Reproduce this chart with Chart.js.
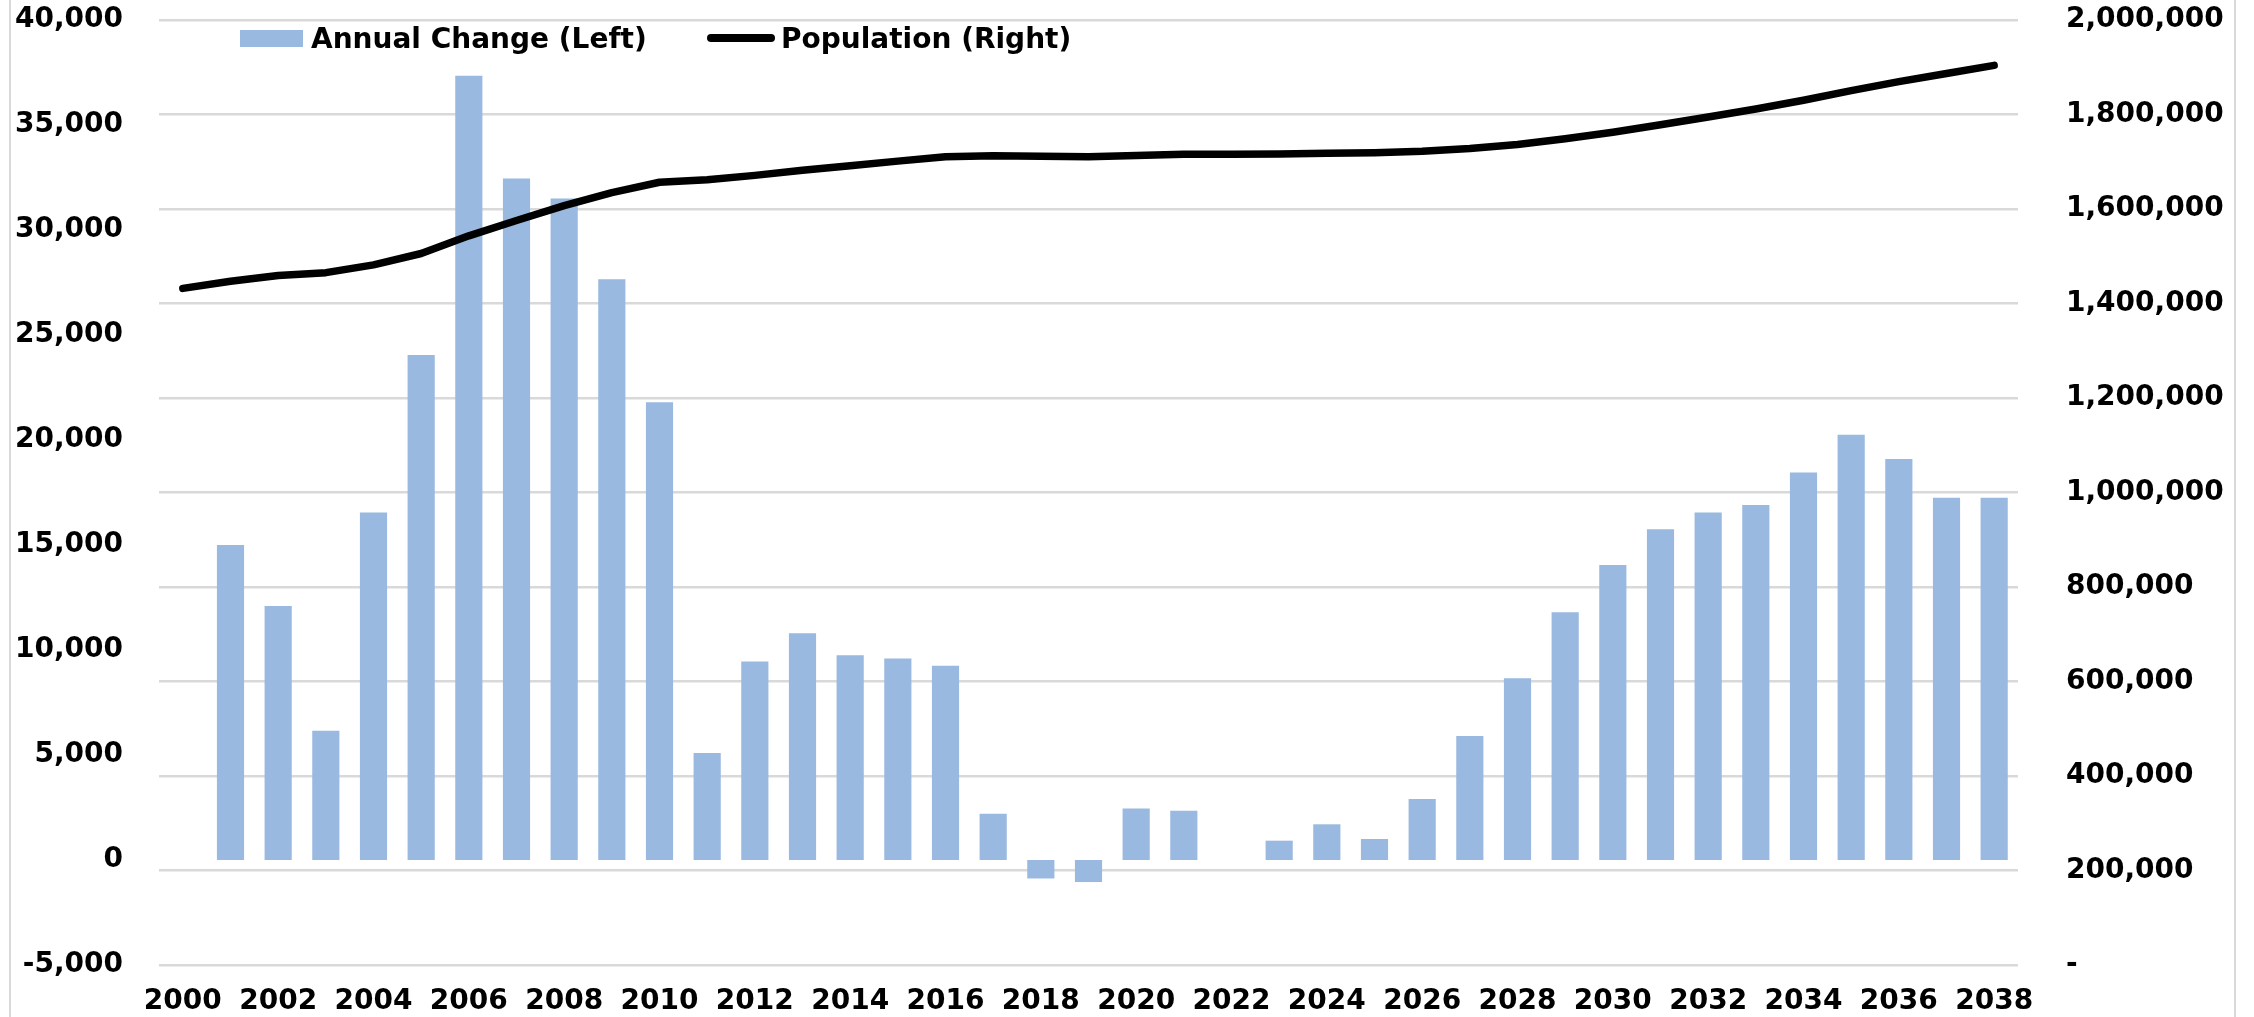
<!DOCTYPE html>
<html>
<head>
<meta charset="utf-8">
<script src="https://cdn.jsdelivr.net/npm/chart.js@4.4.1/dist/chart.umd.min.js"></script>
<style>
  html, body { margin: 0; padding: 0; background: #ffffff; overflow: hidden; }
  #wrap { position: relative; width: 2254px; height: 1017px; }
  #chart { position: absolute; left: 0; top: 0; }
  .frame { position: absolute; top: 0; width: 2px; height: 1017px; background: #d9d9d9; }
  .leg { position: absolute; top: 22px; height: 32px; display: flex; align-items: center;
         font: bold 28px "DejaVu Sans", sans-serif; color: #000; white-space: nowrap; }
  .sw-bar { width: 63px; height: 17px; margin-right: 8px; }
  .sw-line { width: 68px; height: 8px; border-radius: 4px; margin-right: 6px; }
</style>
</head>
<body>
<div id="wrap">
  <canvas id="chart"></canvas>
  <div class="frame" style="left:9px"></div>
  <div class="frame" style="left:2234px"></div>
</div>
<script>
const years = ['2000','2001','2002','2003','2004','2005','2006','2007','2008','2009',
               '2010','2011','2012','2013','2014','2015','2016','2017','2018','2019',
               '2020','2021','2022','2023','2024','2025','2026','2027','2028','2029',
               '2030','2031','2032','2033','2034','2035','2036','2037','2038'];

const annualChange = [null, 15000, 12100, 6150, 16550, 24050, 37350, 32450, 31500, 27650,
                      21800, 5100, 9450, 10800, 9750, 9600, 9250, 2200, -880, -1050,
                      2450, 2350, 0, 920, 1700, 1000, 2900, 5900, 8650, 11800,
                      14050, 15750, 16550, 16900, 18450, 20250, 19100, 17250, 17250];

const population = [1432000, 1447000, 1459100, 1465250, 1481800, 1505850, 1543200, 1575650, 1607150, 1634800,
                    1656600, 1661700, 1671150, 1681950, 1691700, 1701300, 1710550, 1712750, 1711870, 1710820,
                    1713270, 1715620, 1715620, 1716540, 1718240, 1719240, 1722140, 1728040, 1736690, 1748490,
                    1762540, 1778290, 1794840, 1811740, 1830190, 1850440, 1869540, 1886790, 1904040];

const seriesNames = ['Annual Change (Left)', 'Population (Right)'];
const barColor = '#99B9E0';
const lineColor = '#000000';

const tickFont = { family: 'DejaVu Sans', weight: 'bold', size: 28 };

const chart = new Chart(document.getElementById('chart'), {
  type: 'bar',
  data: {
    labels: years,
    datasets: [
      {
        type: 'bar',
        label: seriesNames[0],
        data: annualChange,
        yAxisID: 'y',
        backgroundColor: barColor,
        borderWidth: 0,
        barPercentage: 0.57,
        categoryPercentage: 1.0,
        order: 1
      },
      {
        type: 'line',
        label: seriesNames[1],
        data: population,
        yAxisID: 'y1',
        borderColor: lineColor,
        borderWidth: 7.5,
        pointRadius: 0,
        tension: 0,
        borderCapStyle: 'round',
        borderJoinStyle: 'round',
        order: 0
      }
    ]
  },
  options: {
    responsive: true,
    maintainAspectRatio: false,
    animation: false,
    layout: { padding: { top: 20, left: 0, right: 0, bottom: 0 } },
    plugins: { legend: { display: false }, tooltip: { enabled: false } },
    scales: {
      x: {
        grid: { display: false, drawTicks: false },
        border: { display: false },
        ticks: {
          autoSkip: false, maxRotation: 0, minRotation: 0, padding: 20,
          color: '#000', font: tickFont,
          callback: (v, i) => (i % 2 === 0 ? years[i] : '')
        },
        afterFit: (s) => { s.height = 52; }
      },
      y: {
        position: 'left',
        min: -5000, max: 40000,
        grid: { display: false, drawTicks: false },
        border: { display: false },
        ticks: {
          stepSize: 5000, padding: 36, color: '#000', font: tickFont,
          callback: (v) => Number(v).toLocaleString('en-US')
        },
        afterFit: (s) => { s.width = 159; s.paddingTop = 0; s.paddingBottom = 0; }
      },
      y1: {
        position: 'right',
        min: 0, max: 2000000,
        grid: { color: '#d9d9d9', lineWidth: 2.5, drawTicks: false },
        border: { display: false },
        ticks: {
          stepSize: 200000, padding: 48, color: '#000', font: tickFont,
          callback: (v) => (v === 0 ? '-' : Number(v).toLocaleString('en-US'))
        },
        afterFit: (s) => { s.width = 236; s.paddingTop = 0; s.paddingBottom = 0; }
      }
    }
  }
});

// HTML legend built from the chart's datasets
const legendLefts = [240, 707];
chart.data.datasets.forEach((ds, i) => {
  const item = document.createElement('div');
  item.className = 'leg';
  item.style.left = legendLefts[i] + 'px';
  const sw = document.createElement('span');
  if (ds.type === 'bar') { sw.className = 'sw-bar'; sw.style.background = ds.backgroundColor; }
  else { sw.className = 'sw-line'; sw.style.background = ds.borderColor; }
  const tx = document.createElement('span');
  tx.textContent = ds.label;
  item.appendChild(sw);
  item.appendChild(tx);
  document.getElementById('wrap').appendChild(item);
});
</script>
</body>
</html>
